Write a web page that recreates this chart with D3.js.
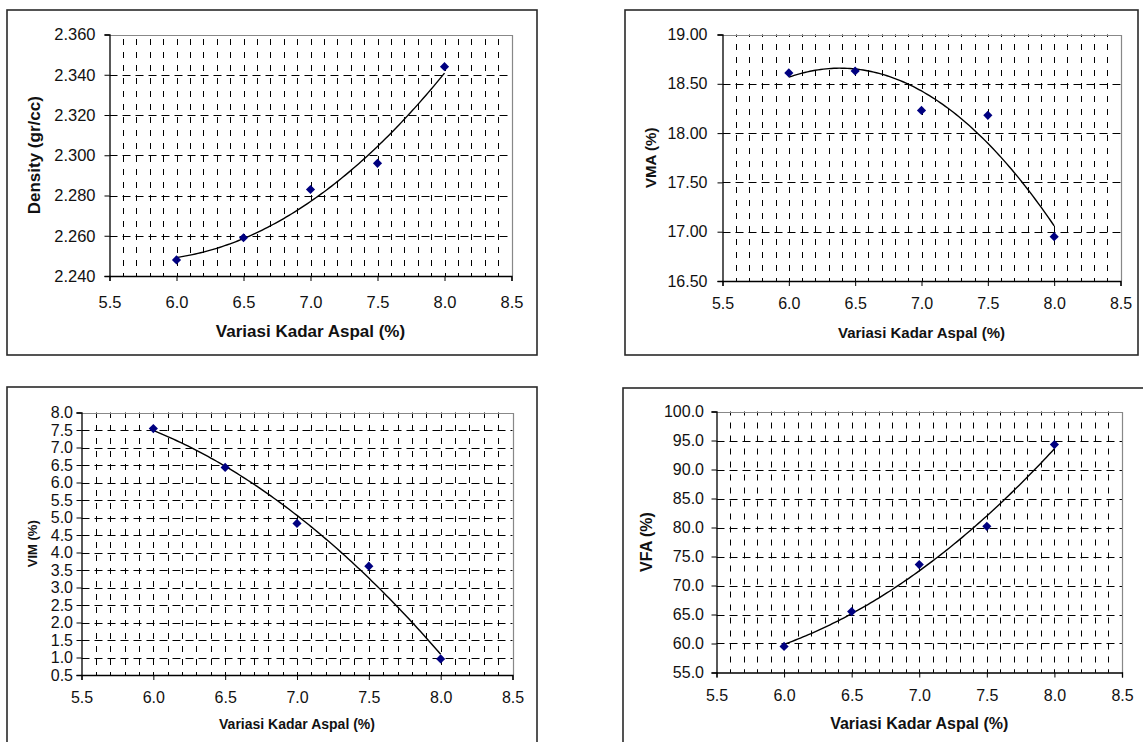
<!DOCTYPE html>
<html>
<head>
<meta charset="utf-8">
<script src="https://cdn.jsdelivr.net/npm/d3@7"></script>
<style>
  body { margin: 0; background: #fff; }
  text { font-family: Arial, "Liberation Sans", sans-serif; fill: #111; }
</style>
</head>
<body>
<svg width="1143" height="742"></svg>
<script>
// data
const kadar = [6.0, 6.5, 7.0, 7.5, 8.0];
const density = [2.248, 2.259, 2.283, 2.296, 2.344];
const vma = [18.61, 18.63, 18.23, 18.18, 16.95];
const vim = [7.54, 6.43, 4.83, 3.61, 0.96];
const vfa = [59.5, 65.5, 73.6, 80.2, 94.3];

const xTicks = [5.5, 6.0, 6.5, 7.0, 7.5, 8.0, 8.5];
const densityTicks = [2.24, 2.26, 2.28, 2.30, 2.32, 2.34, 2.36];
const vmaTicks = [16.5, 17.0, 17.5, 18.0, 18.5, 19.0];
const vimTicks = [0.5, 1.0, 1.5, 2.0, 2.5, 3.0, 3.5, 4.0, 4.5, 5.0, 5.5, 6.0, 6.5, 7.0, 7.5, 8.0];
const vfaTicks = [55, 60, 65, 70, 75, 80, 85, 90, 95, 100];
const xMinor = [5.6, 5.7, 5.8, 5.9, 6.0, 6.1, 6.2, 6.3, 6.4, 6.5, 6.6, 6.7, 6.8, 6.9, 7.0,
                7.1, 7.2, 7.3, 7.4, 7.5, 7.6, 7.7, 7.8, 7.9, 8.0, 8.1, 8.2, 8.3, 8.4];

const xTitle = "Variasi Kadar Aspal (%)";

const svg = d3.select("svg");

// layout of each panel (pixels)
const panels = [
  { values: density, ticks: densityTicks, fmt: ".3f", yTitle: "Density (gr/cc)",
    box: [7, 10, 537, 355], left: 109.5, right: 511.5, top: 34.5, bottom: 276,
    tickFont: 16.5, titleFont: 17, yTitleX: 34, yPad: 9, xPad: 15, xTitleY: 331 },
  { values: vma, ticks: vmaTicks, fmt: ".2f", yTitle: "VMA (%)",
    box: [625, 10, 1138, 355], left: 722.5, right: 1120.5, top: 34.5, bottom: 281,
    tickFont: 16, titleFont: 15, yTitleX: 650, yPad: 10, xPad: 11.5, xTitleY: 332 },
  { values: vim, ticks: vimTicks, fmt: ".1f", yTitle: "VIM (%)",
    box: [7, 387, 537, 760], left: 81.5, right: 512.5, top: 412.5, bottom: 675,
    tickFont: 16, titleFont: 14, yTitleFont: 13, yTitleX: 32, yPad: 3.5, xPad: 12, xTitleY: 724 },
  { values: vfa, ticks: vfaTicks, fmt: ".1f", yTitle: "VFA (%)",
    box: [623, 388, 1160, 760], left: 716.5, right: 1122, top: 411.5, bottom: 672.5,
    tickFont: 16, titleFont: 16, yTitleX: 646, yPad: 7.5, xPad: 12.5, xTitleY: 723 }
];

// quadratic least squares, like the spreadsheet's polynomial trendline
function quadFit(xs, ys) {
  let s = [0, 0, 0, 0, 0], t = [0, 0, 0];
  xs.forEach((x, i) => {
    for (let k = 0; k <= 4; k++) s[k] += Math.pow(x, k);
    for (let k = 0; k <= 2; k++) t[k] += Math.pow(x, k) * ys[i];
  });
  const A = [[s[0], s[1], s[2], t[0]], [s[1], s[2], s[3], t[1]], [s[2], s[3], s[4], t[2]]];
  for (let i = 0; i < 3; i++) {
    for (let j = i + 1; j < 3; j++) {
      const f = A[j][i] / A[i][i];
      for (let k = i; k < 4; k++) A[j][k] -= f * A[i][k];
    }
  }
  const c = [0, 0, 0];
  for (let i = 2; i >= 0; i--) {
    let v = A[i][3];
    for (let k = i + 1; k < 3; k++) v -= A[i][k] * c[k];
    c[i] = v / A[i][i];
  }
  return x => c[0] + c[1] * x + c[2] * x * x;
}

panels.forEach(drawPanel);

function drawPanel(p) {
  const g = svg.append("g");
  const [bx0, by0, bx1, by1] = p.box;

  g.append("rect")
    .attr("x", bx0).attr("y", by0)
    .attr("width", bx1 - bx0).attr("height", by1 - by0)
    .attr("fill", "none").attr("stroke", "#2a2a2a").attr("stroke-width", 1.6);

  const x = d3.scaleLinear().domain([5.5, 8.5]).range([p.left, p.right]);
  const y = d3.scaleLinear().domain(d3.extent(p.ticks)).range([p.bottom, p.top]);

  // vertical dashed grid every 0.1
  g.append("g").selectAll("line").data(xMinor).enter().append("line")
    .attr("x1", d => Math.round(x(d)) + 0.5).attr("x2", d => Math.round(x(d)) + 0.5)
    .attr("y1", p.bottom).attr("y2", p.top)
    .attr("stroke", "#000").attr("stroke-width", 1)
    .attr("stroke-dasharray", "6,7").attr("stroke-dashoffset", 3);

  // horizontal dashed grid at the major ticks
  g.append("g").selectAll("line").data(p.ticks.slice(1, -1)).enter().append("line")
    .attr("x1", p.left).attr("x2", p.right)
    .attr("y1", d => Math.round(y(d)) + 0.5).attr("y2", d => Math.round(y(d)) + 0.5)
    .attr("stroke", "#000").attr("stroke-width", 1)
    .attr("stroke-dasharray", "8,5");

  // plot area border (top and right, grey)
  g.append("path")
    .attr("d", `M${p.left},${Math.round(p.top) + 0.5}H${Math.round(p.right) + 0.5}V${p.bottom}`)
    .attr("fill", "none").attr("stroke", "#888").attr("stroke-width", 1.2);

  // minor ticks on x axis (inside)
  g.append("g").selectAll("line").data(xMinor).enter().append("line")
    .attr("x1", d => Math.round(x(d)) + 0.5).attr("x2", d => Math.round(x(d)) + 0.5)
    .attr("y1", p.bottom).attr("y2", p.bottom - 3)
    .attr("stroke", "#000");

  const yAxis = g.append("g")
    .attr("transform", `translate(${p.left},0)`)
    .call(d3.axisLeft(y).tickValues(p.ticks).tickFormat(d3.format(p.fmt))
      .tickSizeOuter(0).tickSize(5).tickPadding(p.yPad));

  const xAxis = g.append("g")
    .attr("transform", `translate(0,${p.bottom})`)
    .call(d3.axisBottom(x).tickValues(xTicks).tickFormat(d3.format(".1f"))
      .tickSizeOuter(0).tickSize(5).tickPadding(p.xPad));

  [yAxis, xAxis].forEach(a => {
    a.select(".domain").attr("stroke", "#000").attr("stroke-width", 1.3);
    a.selectAll(".tick line").attr("stroke", "#000");
    a.selectAll("text").attr("font-size", p.tickFont).attr("fill", "#111")
      .attr("font-family", "Arial, 'Liberation Sans', sans-serif");
  });

  // trendline
  const f = quadFit(kadar, p.values);
  const line = d3.line().x(d => x(d)).y(d => y(f(d)));
  g.append("path")
    .datum(d3.range(6.0, 8.0001, 0.02))
    .attr("d", line)
    .attr("fill", "none").attr("stroke", "#000").attr("stroke-width", 1.4);

  // markers
  g.append("g").selectAll("path").data(kadar).enter().append("path")
    .attr("d", d3.symbol(d3.symbolSquare, 42))
    .attr("transform", (d, i) => `translate(${x(d)},${y(p.values[i])}) rotate(45)`)
    .attr("fill", "#000080");

  // titles
  g.append("text")
    .attr("x", (p.left + p.right) / 2).attr("y", p.xTitleY)
    .attr("text-anchor", "middle").attr("dominant-baseline", "central")
    .attr("font-weight", "bold").attr("font-size", p.titleFont)
    .text(xTitle);

  g.append("text")
    .attr("transform", `translate(${p.yTitleX},${(p.top + p.bottom) / 2}) rotate(-90)`)
    .attr("text-anchor", "middle").attr("dominant-baseline", "central")
    .attr("font-weight", "bold").attr("font-size", p.yTitleFont || p.titleFont)
    .text(p.yTitle);
}
</script>
</body>
</html>
